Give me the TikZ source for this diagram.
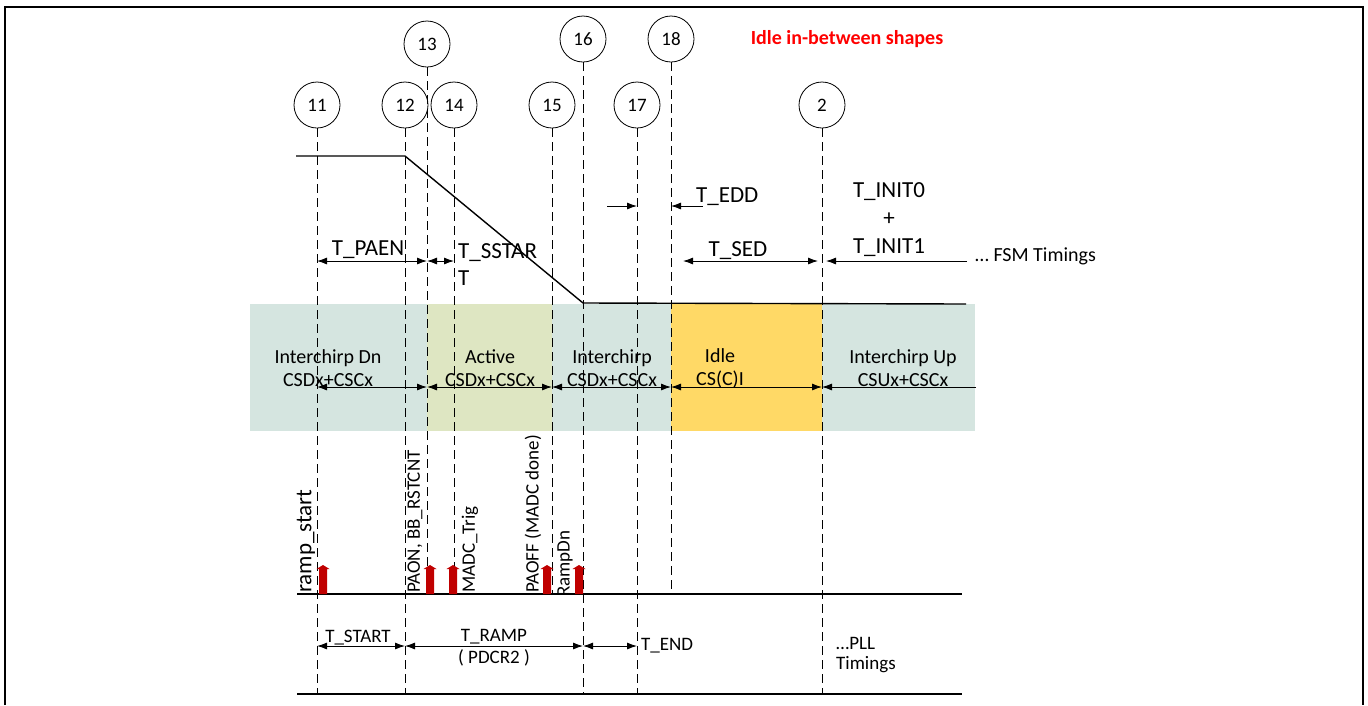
\documentclass[tikz,border=0pt]{standalone}
\usepackage{fontspec}
\setmainfont{Carlito}
\usepackage{xcolor}
\usetikzlibrary{calc}
\usetikzlibrary{arrows.meta}

\definecolor{vertgris}{RGB}{213,229,224}
\definecolor{vertolive}{RGB}{222,230,194}
\definecolor{jaune}{RGB}{255,217,102}
\definecolor{rougefonce}{RGB}{192,0,0}

\newcommand{\taille}[2]{\fontsize{#1}{#2}\selectfont}

\begin{document}
\begin{tikzpicture}[x=1pt,y=-1pt]

\tikzset{
    rond/.style = {
    draw, circle, line width=0.8pt,
    minimum size=46pt, inner sep=0pt,
    font=\taille{19}{19}
    }
}

\tikzstyle{pointille}=[line width=1pt, dash pattern=on 9pt off 5pt]
\tikzstyle{cote}=[line width=0.9pt, {Latex[length=10pt,width=7pt]}-{Latex[length=10pt,width=7pt]}]
\tikzstyle{fleche}=[line width=0.9pt, -{Latex[length=10pt,width=7pt]}]
\tikzstyle{trait}=[line width=1.4pt]
\tikzstyle{fsm}=[inner sep=0pt, font=\taille{23}{27}]
\tikzstyle{zone}=[inner sep=0pt, align=center, font=\taille{20}{23}]
\tikzstyle{signal}=[inner sep=0pt, rotate=90, anchor=west, font=\taille{19}{19}]
\tikzstyle{pll}=[inner sep=0pt, font=\taille{19}{20}]

\useasboundingbox (0,0) rectangle (1368,705);
\draw[line width=2.5pt] (5,705) -- (5,7) -- (1363,7) -- (1363,705);

% bandes des etats
\fill[vertgris] (250,304) rectangle (427,431);
\fill[vertolive] (427,304) rectangle (552,431);
\fill[vertgris] (552,304) rectangle (671,431);
\fill[jaune] (671,304) rectangle (822,431);
\fill[vertgris] (822,304) rectangle (975,431);

\foreach \n/\x/\y in {11/317/105, 12/405/105, 13/427/44, 14/454/105, 15/552/105, 16/583/39, 17/637/105, 18/671/39, 2/822/105}{
    \node (t-\n) [rond] at (\x,\y) {\n};
}

\foreach \n/\b in {11/694, 12/694, 13/594, 14/594, 15/594, 16/694, 17/694, 18/594, 2/694}{
    \coordinate (b-\n) at (t-\n |- 0,\b);
    \draw[pointille] (t-\n.south) -- (b-\n);
}

% rampe
\coordinate (r-debut) at (296,156);
\coordinate (r-fin) at (966,304);
\draw[trait] (r-debut) -- (t-12 |- r-debut) -- (t-16 |- 0,303) -- (r-fin);

\node (titre) [text=red, font=\taille{20}{20}\bfseries] at (847,39) {Idle in-between shapes};

% FSM timings
\coordinate (fsm) at (0,261);
\coordinate (fsm-fin) at (967,261);
\draw[cote] (t-11 |- fsm) -- (t-13 |- fsm);
\draw[cote] (t-13 |- fsm) -- (t-14 |- fsm);
\draw[cote] ($(t-18 |- fsm)+(12,0)$) -- ($(t-2 |- fsm)+(-4,0)$);
\draw[fleche] (fsm-fin) -- ($(t-2 |- fsm)+(4,0)$);

\coordinate (edd-g) at (607,206);
\coordinate (edd-d) at (703,206);
\draw[fleche] (edd-g) -- (t-17 |- edd-g);
\draw[fleche] (edd-d) -- (t-18 |- edd-d);

\node (l-paen) [fsm] at (368,250) {T\_PAEN};
\node (l-sstart) [fsm, anchor=west, align=left] at (458,265) {T\_SSTAR\\T};
\node (l-edd) [fsm, anchor=west] at (696,197) {T\_EDD};
\node (l-sed) [fsm] at (738,251) {T\_SED};
\node (l-init) [fsm, align=center, font=\taille{23}{28}] at (889,220) {T\_INIT0\\+\\T\_INIT1};
\node (l-fsm) [inner sep=0pt, anchor=west, font=\taille{20}{20}] at (975,256) {… FSM Timings};

% etats
\coordinate (zone) at (0,387);
\coordinate (zone-fin) at (976,387);
\foreach \a/\b in {11/13, 13/15, 15/18, 18/2}{
    \draw[cote] (t-\a |- zone) -- (t-\b |- zone);
}
\draw[fleche] (zone-fin) -- (t-2 |- zone);

\node (z-dn) [zone] at (328,368) {Interchirp Dn\\CSDx+CSCx};
\node (z-act) [zone] at (490,368) {Active\\CSDx+CSCx};
\node (z-ic) [zone] at (612,368) {Interchirp\\CSDx+CSCx};
\node (z-idle) [zone] at (720,368) {Idle\\CS(C)I};
\node (z-up) [zone] at (903,368) {Interchirp Up\\CSUx+CSCx};

% signaux
\coordinate (s-debut) at (297,594);
\coordinate (s-fin) at (962,594);
\draw[trait] (s-debut) -- (s-fin);

\foreach \x in {323,430,453,547,579}{
    \fill[rougefonce] (\x-4,594) -- (\x-4,569) -- (\x-6.5,569) -- (\x,565) -- (\x+6.5,569) -- (\x+4,569) -- (\x+4,594) -- cycle;
}

\node (s-ramp) [signal, font=\taille{23}{23}] at (306,593) {ramp\_start};
\node (s-paon) [signal] at (415,593) {PAON, BB\_RSTCNT};
\node (s-madc) [signal] at (470,593) {MADC\_Trig};
\node (s-paoff) [signal] at (533,593) {PAOFF (MADC done)};
\node (s-rdn) [signal] at (565,597) {RampDn};

% PLL timings
\coordinate (pll) at (0,646);
\foreach \a/\b in {11/12, 12/16, 16/17}{
    \draw[cote] (t-\a |- pll) -- (t-\b |- pll);
}

\node (p-start) [pll] at (358,638) {T\_START};
\node (p-ramp) [pll, align=center, font=\taille{19}{22}] at (494,648) {T\_RAMP\\( PDCR2 )};
\node (p-end) [pll, anchor=west] at (641,646) {T\_END};
\node (p-pll) [pll, anchor=west, align=left] at (836,655) {…PLL\\Timings};

\coordinate (f-debut) at (297,694);
\coordinate (f-fin) at (962,694);
\draw[trait] (f-debut) -- (f-fin);

\end{tikzpicture}
\end{document}
